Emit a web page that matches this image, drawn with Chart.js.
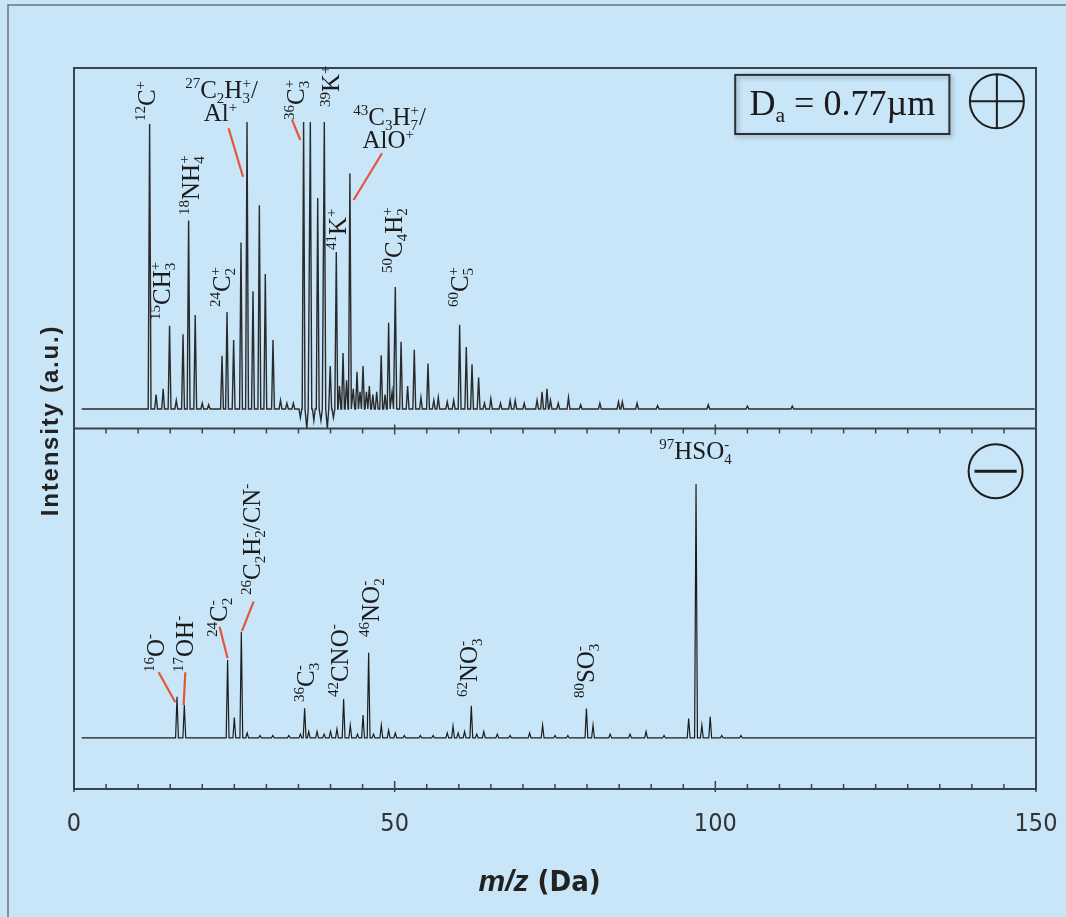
<!DOCTYPE html>
<html>
<head>
<meta charset="utf-8">
<script src="https://cdn.jsdelivr.net/npm/chart.js@4.4.1/dist/chart.umd.min.js"></script>
<style>
  html, body { margin: 0; padding: 0; background: #c8e6f8; }
  #wrap { width: 1066px; height: 917px; }
</style>
</head>
<body>
<div id="wrap"><canvas id="spectrum" width="1066" height="917"></canvas></div>
<script>
// ---- SPECTRUM DATA (m/z in Da, intensity in a.u.) ----
const specStart = 1.2;
const specEnd = 149.8;

// positive ion spectrum (top panel)
const posMass = [
  11.79, 12.8, 13.9, 14.9, 15.95, 17.0, 17.87, 18.9, 20.0, 21.0,
  23.08, 23.86, 24.89, 26.04, 26.98, 27.91, 28.9, 29.83, 31.03, 32.2,
  33.2, 34.2, 35.3, 35.8, 36.3, 36.85, 37.4, 38.0, 38.5, 39.03,
  39.5, 39.95, 40.45, 40.9, 41.4, 41.95, 42.5, 43.02, 43.55, 44.13,
  44.6, 45.07, 45.6, 46.05, 46.6, 47.2, 47.9, 48.5, 49.06, 49.6,
  50.1, 51.0, 52.02, 53.06, 54.1, 55.2, 56.1, 56.8, 58.2, 59.2,
  60.13, 61.17, 62.06, 63.09, 64.0, 65.0, 66.5, 68.0, 68.8, 70.2,
  72.2, 72.98, 73.75, 74.3, 75.5, 77.1, 79.0, 82.0, 84.9, 85.5,
  87.8, 91.0, 98.9, 105.0, 112.0
];
const posHeight = [
  99.3, 5, 7, 29, 3, 26, 65.7, 32.7, 2, 1.5,
  18.5, 33.8, 24, 58, 100, 41, 71, 47, 24, 3,
  2, 2, -3, 100, -6.8, 100, -4, 73.5, -4, 100,
  -6.8, 15, -3, 54.7, 8, 19.5, 10, 82, 7, 13,
  6, 15, 6, 8, 5, 6, 18.7, 5, 30, 6,
  42.5, 23.4, 8, 20.6, 4, 15.8, 3, 4, 2.5, 3,
  29.3, 21.6, 15.6, 11, 2, 3.6, 2, 3, 3, 2,
  3, 6, 7, 3, 2, 4, 1.5, 2, 2.5, 2.5,
  2, 1.2, 1.5, 1, 1
];

// negative ion spectrum (bottom panel)
const negMass = [
  16.06, 17.2, 23.95, 25.0, 26.09, 27.0, 29.0, 31.0, 33.5, 35.3,
  35.96, 36.6, 37.9, 39.0, 40.0, 41.0, 42.04, 43.08, 44.2, 45.07,
  45.94, 46.7, 47.92, 49.06, 50.1, 51.5, 54.0, 56.0, 58.2, 59.1,
  59.9, 60.9, 61.95, 62.8, 63.9, 66.0, 68.0, 71.04, 73.07, 75.0,
  77.0, 79.9, 80.93, 83.6, 86.7, 89.2, 92.0, 95.84, 96.99, 97.9,
  99.2, 101.0, 104.0
];
const negHeight = [
  16.2, 13, 30.7, 8, 41.8, 2, 1, 1, 1, 1.5,
  11.7, 2.5, 2.5, 1.5, 2.5, 3.5, 15.3, 5, 1.5, 9,
  33.6, 1.5, 5, 3, 2, 1, 1, 1, 2, 4.7,
  2, 2.5, 12.7, 1.5, 2.5, 1.5, 1, 2, 5, 1,
  1, 11.6, 5, 1.5, 1.5, 2.5, 1, 7.7, 100, 5,
  8.4, 1, 1
];

// axis
const xMin = 0;
const xMax = 150;
const xTickValues = [0, 50, 100, 150];
const xMinorStep = 5;
const posRange = [-6.8, 118.8];
const negRange = [-20.1, 121.9];

// peak labels: anchor = (m/z of label centre line, intensity where the text starts)
const peakLabels = [
  { axis: 'yPos', text: '^{12}C^{+}', mz: 11.27, at: 100.3, rot: true },
  { axis: 'yPos', text: '^{15}CH_{3}^{+}', mz: 13.61, at: 31.0, rot: true },
  { axis: 'yPos', text: '^{18}NH_{4}^{+}', mz: 18.14, at: 67.6, rot: true },
  { axis: 'yPos', text: '^{24}C_{2}^{+}', mz: 22.97, at: 35.5, rot: true },
  { axis: 'yPos', text: '^{36}C_{3}^{+}', mz: 34.5, at: 100.7, rot: true },
  { axis: 'yPos', text: '^{39}K^{+}', mz: 40.1, at: 105.2, rot: true },
  { axis: 'yPos', text: '^{41}K^{+}', mz: 41.06, at: 55.4, rot: true },
  { axis: 'yPos', text: '^{50}C_{4}H_{2}^{+}', mz: 49.8, at: 47.4, rot: true },
  { axis: 'yPos', text: '^{60}C_{5}^{+}', mz: 60.1, at: 35.5, rot: true },
  { axis: 'yPos', text: '^{27}C_{2}H_{3}^{+}/', mz: 23.0, at: 108.4 },
  { axis: 'yPos', text: 'Al^{+}', mz: 22.84, at: 100.3 },
  { axis: 'yPos', text: '^{43}C_{3}H_{7}^{+}/', mz: 49.2, at: 99.0 },
  { axis: 'yPos', text: 'AlO^{+}', mz: 49.0, at: 90.9 },
  { axis: 'yNeg', text: '^{16}O^{-}', mz: 12.68, at: 26.0, rot: true },
  { axis: 'yNeg', text: '^{17}OH^{-}', mz: 17.2, at: 26.0, rot: true },
  { axis: 'yNeg', text: '^{24}C_{2}^{-}', mz: 22.55, at: 39.8, rot: true },
  { axis: 'yNeg', text: '^{26}C_{2}H_{2}^{-}/CN^{-}', mz: 27.76, at: 56.3, rot: true },
  { axis: 'yNeg', text: '^{36}C_{3}^{-}', mz: 36.07, at: 14.2, rot: true },
  { axis: 'yNeg', text: '^{42}CNO^{-}', mz: 41.42, at: 16.1, rot: true },
  { axis: 'yNeg', text: '^{46}NO_{2}^{-}', mz: 46.2, at: 39.8, rot: true },
  { axis: 'yNeg', text: '^{62}NO_{3}^{-}', mz: 61.53, at: 16.1, rot: true },
  { axis: 'yNeg', text: '^{80}SO_{3}^{-}', mz: 79.73, at: 15.7, rot: true },
  { axis: 'yNeg', text: '^{97}HSO_{4}^{-}', mz: 96.9, at: 110.0 }
];

// red leader lines, [m/z, intensity] -> [m/z, intensity]
const leaders = [
  { axis: 'yPos', from: [24.1, 97.8], to: [26.35, 80.9] },
  { axis: 'yPos', from: [34.0, 100.7], to: [35.29, 93.7] },
  { axis: 'yPos', from: [48.03, 89.1], to: [43.6, 72.8] },
  { axis: 'yNeg', from: [13.19, 25.9], to: [15.8, 14.1] },
  { axis: 'yNeg', from: [17.36, 25.9], to: [17.09, 13.0] },
  { axis: 'yNeg', from: [22.7, 43.8], to: [23.95, 31.4] },
  { axis: 'yNeg', from: [28.0, 53.7], to: [26.2, 42.2] }
];

const SERIF = '"Liberation Serif", "Times New Roman", serif';
const SANS = '"Liberation Sans", Arial, sans-serif';
const NARROW = '"DejaVu Sans Condensed", "Liberation Sans", sans-serif';
const PEAK_HALF_WIDTH = 0.22;

// ---- BUILD TRACES ----
function buildTrace(mass, height) {
  const order = mass.map((m, i) => i).sort((a, b) => mass[a] - mass[b]);
  const pts = [{ x: specStart, y: 0 }];
  order.forEach(i => {
    pts.push({ x: mass[i] - PEAK_HALF_WIDTH, y: 0 });
    pts.push({ x: mass[i], y: height[i] });
    pts.push({ x: mass[i] + PEAK_HALF_WIDTH, y: 0 });
  });
  pts.push({ x: specEnd, y: 0 });
  return pts;
}

// ---- RICH TEXT (super/subscripts) ----
function parseRich(str) {
  const parts = [];
  const re = /([\^_])\{([^}]*)\}|([^\^_]+)/g;
  let m;
  while ((m = re.exec(str))) {
    if (m[3]) parts.push({ t: m[3], k: 'n' });
    else parts.push({ t: m[2], k: m[1] === '^' ? 'sup' : 'sub' });
  }
  const out = [];
  parts.forEach(p => {
    const prev = out[out.length - 1];
    if (prev && prev.k === 'sub' && p.k === 'sup') { prev.k = 'both'; prev.sup = p.t; }
    else out.push(Object.assign({}, p));
  });
  return out;
}

function drawRich(ctx, parts, x0, base, size, dry) {
  let x = x0;
  const small = size * 0.6;
  parts.forEach(p => {
    if (p.k === 'n') {
      ctx.font = size + 'px ' + SERIF;
      if (!dry) ctx.fillText(p.t, x, base);
      x += ctx.measureText(p.t).width;
    } else {
      ctx.font = small + 'px ' + SERIF;
      let w = 0;
      const supText = p.k === 'both' ? p.sup : (p.k === 'sup' ? p.t : null);
      const subText = p.k === 'sup' ? null : p.t;
      if (supText) {
        if (!dry) ctx.fillText(supText, x, base - size * 0.38);
        w = Math.max(w, ctx.measureText(supText).width);
      }
      if (subText) {
        if (!dry) ctx.fillText(subText, x, base + size * 0.2);
        w = Math.max(w, ctx.measureText(subText).width);
      }
      x += w;
    }
  });
  return x - x0;
}

// ---- FRAME / ANNOTATION PLUGIN ----
const spectrumDecor = {
  id: 'spectrumDecor',
  beforeDraw(chart) {
    const { ctx, width, height } = chart;
    ctx.save();
    ctx.fillStyle = '#c8e6f8';
    ctx.fillRect(0, 0, width, height);
    // figure border
    ctx.strokeStyle = '#6f7478';
    ctx.lineWidth = 1.5;
    ctx.beginPath();
    ctx.moveTo(8, height);
    ctx.lineTo(8, 5);
    ctx.lineTo(width, 5);
    ctx.stroke();
    ctx.restore();
  },
  afterDatasetsDraw(chart) {
    const { ctx, chartArea: a, scales } = chart;
    const x = scales.x;
    const yP = scales.yPos;
    const yN = scales.yNeg;
    const upper = yP.top < yN.top ? yP : yN;
    const divider = upper.bottom;

    ctx.save();
    // panel frames
    ctx.strokeStyle = '#3b444c';
    ctx.lineWidth = 2;
    ctx.strokeRect(a.left, a.top, a.right - a.left, a.bottom - a.top);
    ctx.beginPath();
    ctx.moveTo(a.left, divider);
    ctx.lineTo(a.right, divider);
    ctx.stroke();

    // ticks
    ctx.lineWidth = 1.5;
    ctx.beginPath();
    for (let v = xMin; v <= xMax; v += xMinorStep) {
      const px = x.getPixelForValue(v);
      const major = xTickValues.includes(v);
      ctx.moveTo(px, a.bottom + (major ? 3 : 0));
      ctx.lineTo(px, a.bottom - (major ? 8 : 5));
      ctx.moveTo(px, divider - (major ? 4 : 0));
      ctx.lineTo(px, divider + (major ? 6 : 5));
    }
    ctx.stroke();

    // leader lines
    ctx.strokeStyle = '#e5553a';
    ctx.lineWidth = 2.2;
    leaders.forEach(l => {
      const ys = scales[l.axis];
      ctx.beginPath();
      ctx.moveTo(x.getPixelForValue(l.from[0]), ys.getPixelForValue(l.from[1]));
      ctx.lineTo(x.getPixelForValue(l.to[0]), ys.getPixelForValue(l.to[1]));
      ctx.stroke();
    });

    // peak labels
    ctx.fillStyle = '#1b1b1b';
    ctx.textBaseline = 'alphabetic';
    ctx.textAlign = 'left';
    peakLabels.forEach(l => {
      const ys = scales[l.axis];
      const px = x.getPixelForValue(l.mz);
      const py = ys.getPixelForValue(l.at);
      const parts = parseRich(l.text);
      const size = 25;
      if (l.rot) {
        ctx.save();
        ctx.translate(px, py);
        ctx.rotate(-Math.PI / 2);
        drawRich(ctx, parts, 0, size * 0.33, size);
        ctx.restore();
      } else {
        const w = drawRich(ctx, parts, 0, 0, size, true);
        drawRich(ctx, parts, px - w / 2, py, size);
      }
    });

    // particle size box
    const bx0 = x.getPixelForValue(103.1), bx1 = x.getPixelForValue(136.5);
    const by0 = yP.getPixelForValue(116.4), by1 = yP.getPixelForValue(95.8);
    ctx.save();
    ctx.shadowColor = 'rgba(0,0,0,0.3)';
    ctx.shadowBlur = 4;
    ctx.shadowOffsetX = 2;
    ctx.shadowOffsetY = 2;
    ctx.strokeStyle = '#2e2e2e';
    ctx.lineWidth = 2;
    ctx.strokeRect(bx0, by0, bx1 - bx0, by1 - by0);
    ctx.restore();
    const boxParts = parseRich('D_{a} = 0.77µm');
    const bw = drawRich(ctx, boxParts, 0, 0, 36, true);
    drawRich(ctx, boxParts, (bx0 + bx1) / 2 - bw / 2, by0 + 40, 36);

    // polarity symbols
    ctx.strokeStyle = '#1e1e1e';
    ctx.lineWidth = 2;
    const r = 27;
    const cpx = x.getPixelForValue(143.9), cpy = yP.getPixelForValue(107.2);
    ctx.beginPath();
    ctx.arc(cpx, cpy, r, 0, Math.PI * 2);
    ctx.moveTo(cpx - r, cpy); ctx.lineTo(cpx + r, cpy);
    ctx.moveTo(cpx, cpy - r); ctx.lineTo(cpx, cpy + r);
    ctx.stroke();
    const cnx = x.getPixelForValue(143.7), cny = yN.getPixelForValue(105.1);
    ctx.beginPath();
    ctx.arc(cnx, cny, r, 0, Math.PI * 2);
    ctx.stroke();
    ctx.lineWidth = 3;
    ctx.beginPath();
    ctx.moveTo(cnx - r * 0.78, cny); ctx.lineTo(cnx + r * 0.78, cny);
    ctx.stroke();

    // axis titles
    ctx.fillStyle = '#222';
    ctx.textBaseline = 'alphabetic';
    ctx.font = 'italic bold 30px ' + SANS;
    const t1 = 'm/z';
    const w1 = ctx.measureText(t1).width;
    ctx.font = 'bold 29px ' + NARROW;
    const t2 = ' (Da)';
    const w2 = ctx.measureText(t2).width;
    const tx = x.getPixelForValue(72.6) - (w1 + w2) / 2;
    const ty = a.bottom + 102;
    ctx.font = 'italic bold 30px ' + SANS;
    ctx.fillText(t1, tx, ty);
    ctx.font = 'bold 29px ' + NARROW;
    ctx.fillText(t2, tx + w1, ty);

    ctx.save();
    ctx.translate(a.left - 23, divider - 8);
    ctx.rotate(-Math.PI / 2);
    ctx.font = 'bold 24px ' + SANS;
    ctx.letterSpacing = '1.8px';
    ctx.textAlign = 'center';
    ctx.textBaseline = 'middle';
    ctx.fillText('Intensity (a.u.)', 0, 0);
    ctx.restore();

    ctx.restore();
  }
};

// ---- CHART ----
new Chart(document.getElementById('spectrum'), {
  type: 'line',
  data: {
    datasets: [
      {
        label: 'positive ions',
        data: buildTrace(posMass, posHeight),
        yAxisID: 'yPos',
        borderColor: '#2a2a2a',
        borderWidth: 1.4,
        pointRadius: 0,
        tension: 0,
        fill: false
      },
      {
        label: 'negative ions',
        data: buildTrace(negMass, negHeight),
        yAxisID: 'yNeg',
        borderColor: '#1c1c1c',
        borderWidth: 1.2,
        pointRadius: 0,
        tension: 0,
        fill: false
      }
    ]
  },
  options: {
    responsive: false,
    animation: false,
    layout: { autoPadding: false, padding: { left: 74, right: 30, top: 68, bottom: 0 } },
    plugins: { legend: { display: false }, tooltip: { enabled: false } },
    scales: {
      x: {
        type: 'linear',
        position: 'bottom',
        min: xMin,
        max: xMax,
        afterFit(scale) {
          scale.height = 128;
          scale.paddingLeft = 0;
          scale.paddingRight = 0;
        },
        afterBuildTicks(scale) { scale.ticks = xTickValues.map(v => ({ value: v })); },
        grid: { display: false, drawTicks: false },
        border: { display: false },
        ticks: {
          font: { family: NARROW, size: 25 },
          color: '#333',
          padding: 20,
          maxRotation: 0
        }
      },
      yNeg: {
        type: 'linear',
        position: 'left',
        stack: 'ms',
        stackWeight: 1,
        min: negRange[0],
        max: negRange[1],
        display: false
      },
      yPos: {
        type: 'linear',
        position: 'left',
        stack: 'ms',
        stackWeight: 1,
        min: posRange[0],
        max: posRange[1],
        display: false
      }
    }
  },
  plugins: [spectrumDecor]
});
</script>
</body>
</html>
